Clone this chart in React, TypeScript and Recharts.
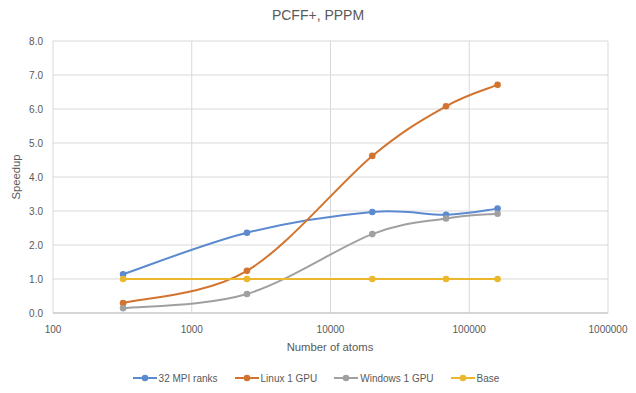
import React from 'react';
import { LineChart, Line, XAxis, YAxis, CartesianGrid, Legend } from 'recharts';

const atoms = [320, 2500, 20000, 68000, 160000];
const mpiRanks = [1.14, 2.36, 2.97, 2.89, 3.07];
const linuxGpu = [0.29, 1.24, 4.62, 6.08, 6.71];
const windowsGpu = [0.14, 0.56, 2.32, 2.78, 2.92];
const base = [1.0, 1.0, 1.0, 1.0, 1.0];
const xTicks = [100, 1000, 10000, 100000, 1000000];
const yTicks = [0, 1, 2, 3, 4, 5, 6, 7, 8];

const seriesNames = ['32 MPI ranks', 'Linux 1 GPU', 'Windows 1 GPU', 'Base'];
const seriesKeys = ['mpi', 'linux', 'windows', 'base'];
const seriesColors = ['#5C8ACF', '#D2742F', '#A0A0A0', '#EBB82D'];

const data = atoms.map((a, i) => ({
  atoms: a,
  mpi: mpiRanks[i],
  linux: linuxGpu[i],
  windows: windowsGpu[i],
  base: base[i],
}));

const FONT = '"Liberation Sans", Arial, sans-serif';
const TEXT = '#595959';

// Excel-like smoothing (cardinal spline, tension 0)
const excelSmooth: any = (context: any) => {
  let pts: number[][] = [];
  return {
    areaStart() {},
    areaEnd() {},
    lineStart() {
      pts = [];
    },
    point(x: number, y: number) {
      pts.push([+x, +y]);
    },
    lineEnd() {
      if (!pts.length) return;
      context.moveTo(pts[0][0], pts[0][1]);
      for (let i = 0; i < pts.length - 1; i++) {
        const p0 = pts[Math.max(i - 1, 0)];
        const p1 = pts[i];
        const p2 = pts[i + 1];
        const p3 = pts[Math.min(i + 2, pts.length - 1)];
        context.bezierCurveTo(
          p1[0] + (p2[0] - p0[0]) / 6,
          p1[1] + (p2[1] - p0[1]) / 6,
          p2[0] - (p3[0] - p1[0]) / 6,
          p2[1] - (p3[1] - p1[1]) / 6,
          p2[0],
          p2[1]
        );
      }
    },
  };
};

const LegendContent = () => (
  <div
    style={{
      display: 'flex',
      justifyContent: 'center',
      alignItems: 'center',
      height: 14,
      fontFamily: FONT,
      fontSize: 10,
      color: TEXT,
    }}
  >
    {seriesNames.map((n, i) => (
      <div key={n} style={{ display: 'flex', alignItems: 'center', marginRight: i < 3 ? 17 : 0 }}>
        <svg width={24} height={8} style={{ marginRight: 2 }}>
          <line x1={0} y1={4} x2={24} y2={4} stroke={seriesColors[i]} strokeWidth={2} />
          <circle cx={12} cy={4} r={3.3} fill={seriesColors[i]} />
        </svg>
        <span>{n}</span>
      </div>
    ))}
  </div>
);

export default function App() {
  return (
    <div style={{ position: 'absolute', left: 0, top: 0, width: 636, height: 393, background: '#fff' }}>
      <LineChart
        width={636}
        height={393}
        data={data}
        margin={{ top: 41, right: 28, left: 0, bottom: 8 }}
      >
        <CartesianGrid stroke="#D9D9D9" strokeWidth={1} />
        <XAxis
          dataKey="atoms"
          type="number"
          scale="log"
          domain={[100, 1000000]}
          ticks={xTicks}
          allowDataOverflow
          height={58}
          axisLine={{ stroke: '#BFBFBF' }}
          tickLine={false}
          tickSize={6}
          tickMargin={7}
          interval={0}
          tick={{ fill: TEXT, fontSize: 10, fontFamily: FONT }}
        />
        <YAxis
          type="number"
          domain={[0, 8]}
          ticks={yTicks}
          width={53}
          axisLine={false}
          tickLine={false}
          tickSize={6}
          tickMargin={4}
          interval={0}
          tickFormatter={(v: number) => v.toFixed(1)}
          tick={{ fill: TEXT, fontSize: 10, fontFamily: FONT }}
        />
        <Legend verticalAlign="bottom" wrapperStyle={{ left: 12 }} content={<LegendContent />} />
        {seriesKeys.map((k, i) => (
          <Line
            key={k}
            dataKey={k}
            name={seriesNames[i]}
            type={excelSmooth}
            stroke={seriesColors[i]}
            strokeWidth={2}
            dot={{ r: 3.3, fill: seriesColors[i], stroke: seriesColors[i], strokeWidth: 0 }}
            activeDot={false}
            isAnimationActive={false}
          />
        ))}
        <text x={318} y={20} textAnchor="middle" fontFamily={FONT} fontSize={14} fill={TEXT}>
          PCFF+, PPPM
        </text>
        <text
          x={20}
          y={177}
          textAnchor="middle"
          fontFamily={FONT}
          fontSize={11.3}
          fill={TEXT}
          transform="rotate(-90 20 177)"
        >
          Speedup
        </text>
        <text x={330} y={351} textAnchor="middle" fontFamily={FONT} fontSize={11.3} fill={TEXT}>
          Number of atoms
        </text>
      </LineChart>
    </div>
  );
}
